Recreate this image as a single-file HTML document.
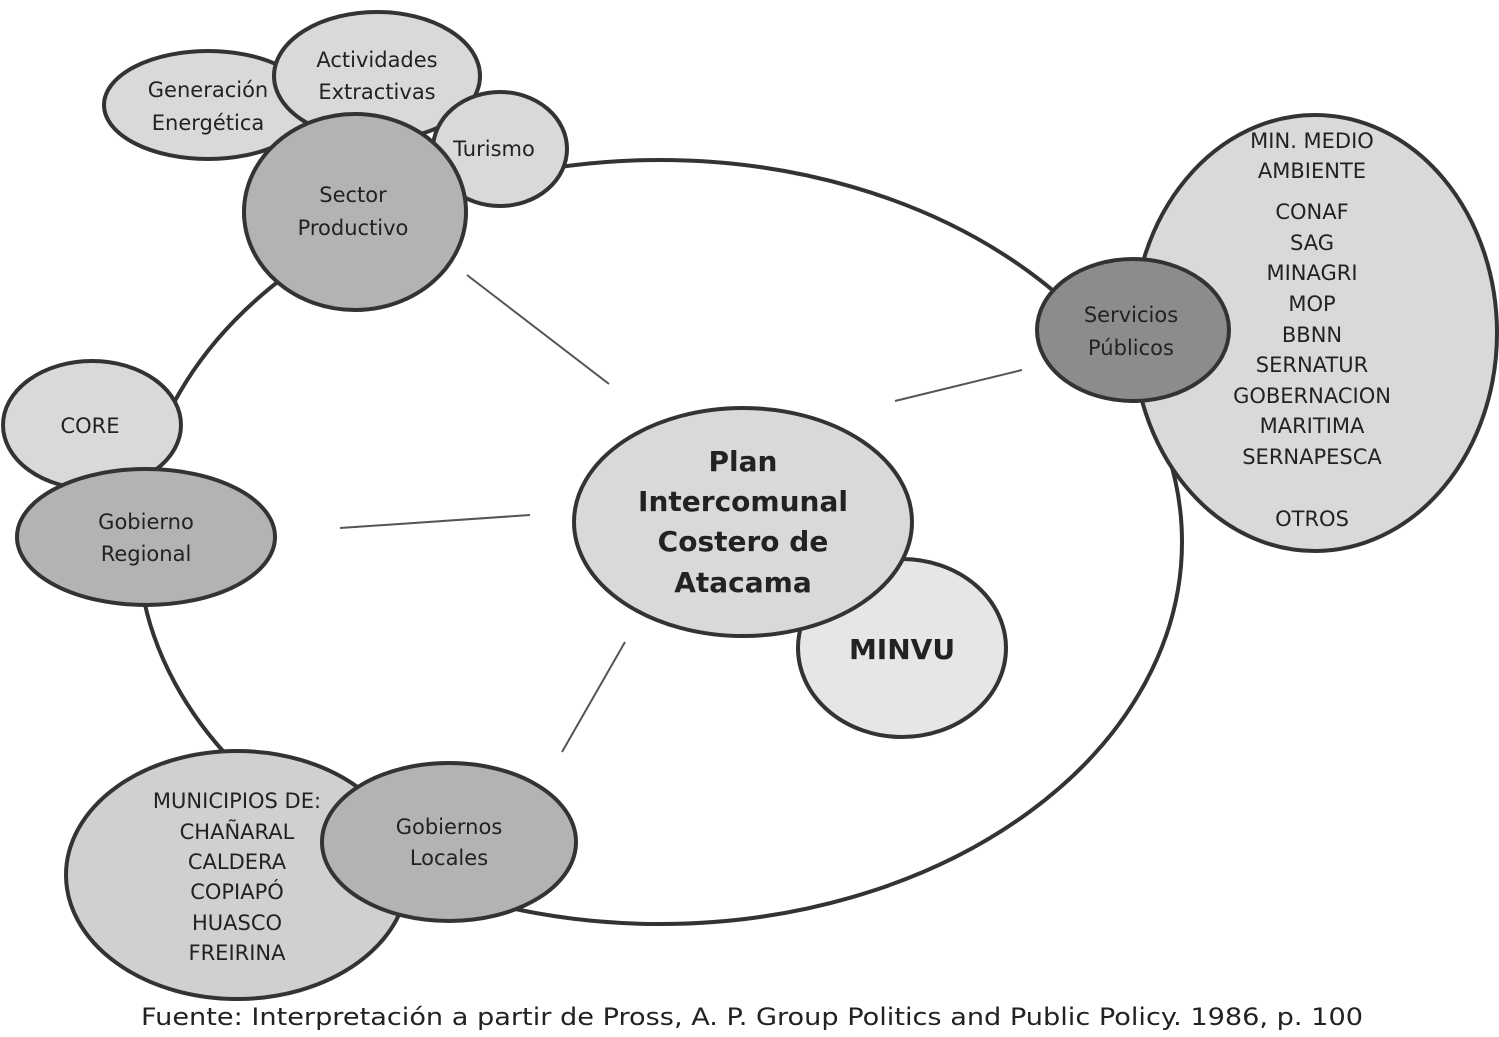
<!DOCTYPE html>
<html><head><meta charset="utf-8"><style>
body{margin:0;background:#fff}
svg text{font-family:"DejaVu Sans","Liberation Sans",sans-serif;fill:#222;text-anchor:middle}
</style></head><body>
<svg width="1499" height="1032" viewBox="0 0 1499 1032" xmlns="http://www.w3.org/2000/svg">
<g stroke="#333" stroke-width="4">
<ellipse cx="660" cy="542" rx="522" ry="382" fill="none"/>
<line x1="467" y1="275" x2="609" y2="384" stroke-width="2" stroke="#555"/>
<line x1="895" y1="401" x2="1022" y2="370" stroke-width="2" stroke="#555"/>
<line x1="340" y1="528" x2="530" y2="515" stroke-width="2" stroke="#555"/>
<line x1="625" y1="642" x2="562" y2="752" stroke-width="2" stroke="#555"/>
<ellipse cx="208" cy="105" rx="104" ry="54" fill="#d9d9d9"/>
<ellipse cx="377" cy="76" rx="103" ry="64" fill="#d9d9d9"/>
<ellipse cx="500" cy="149" rx="67" ry="57" fill="#d9d9d9"/>
<ellipse cx="355" cy="212" rx="111" ry="98" fill="#b3b3b3"/>
<ellipse cx="92" cy="425" rx="89" ry="64" fill="#d9d9d9"/>
<ellipse cx="146" cy="537" rx="129" ry="68" fill="#b3b3b3"/>
<ellipse cx="902" cy="648" rx="104" ry="89" fill="#e6e6e6"/>
<ellipse cx="743" cy="522" rx="169" ry="114" fill="#d9d9d9"/>
<ellipse cx="1315" cy="333" rx="182" ry="218" fill="#d9d9d9"/>
<ellipse cx="1133" cy="330" rx="96" ry="71" fill="#8c8c8c"/>
<ellipse cx="237" cy="875" rx="171" ry="124" fill="#d0d0d0"/>
<ellipse cx="449" cy="842" rx="127" ry="79" fill="#b3b3b3"/>
</g>
<g font-size="21">
<text x="208" y="97">Generación</text><text x="208" y="130">Energética</text>
<text x="377" y="67">Actividades</text><text x="377" y="99">Extractivas</text>
<text x="494" y="156">Turismo</text>
<text x="353" y="202">Sector</text><text x="353" y="235">Productivo</text>
<text x="90" y="433">CORE</text>
<text x="146" y="529">Gobierno</text><text x="146" y="561">Regional</text>
<text x="1131" y="322">Servicios</text><text x="1131" y="355">Públicos</text>
<text x="449" y="834">Gobiernos</text><text x="449" y="865">Locales</text>
<text x="1312" y="148">MIN. MEDIO</text><text x="1312" y="178">AMBIENTE</text>
<text x="1312" y="219">CONAF</text><text x="1312" y="250">SAG</text>
<text x="1312" y="280">MINAGRI</text><text x="1312" y="311">MOP</text>
<text x="1312" y="342">BBNN</text><text x="1312" y="372">SERNATUR</text>
<text x="1312" y="403">GOBERNACION</text><text x="1312" y="433">MARITIMA</text>
<text x="1312" y="464">SERNAPESCA</text><text x="1312" y="526">OTROS</text>
<text x="237" y="808">MUNICIPIOS DE:</text><text x="237" y="839">CHAÑARAL</text>
<text x="237" y="869">CALDERA</text><text x="237" y="899">COPIAPÓ</text>
<text x="237" y="930">HUASCO</text><text x="237" y="960">FREIRINA</text>
</g>
<g font-size="28" font-weight="bold">
<text x="743" y="471">Plan</text><text x="743" y="511">Intercomunal</text>
<text x="743" y="551">Costero de</text><text x="743" y="592">Atacama</text>
<text x="902" y="659">MINVU</text>
</g>
<text x="752" y="1025" font-size="24" textLength="1222" lengthAdjust="spacingAndGlyphs" fill="#222">Fuente: Interpretación a partir de Pross, A. P. Group Politics and Public Policy. 1986, p. 100</text>
</svg>
</body></html>
